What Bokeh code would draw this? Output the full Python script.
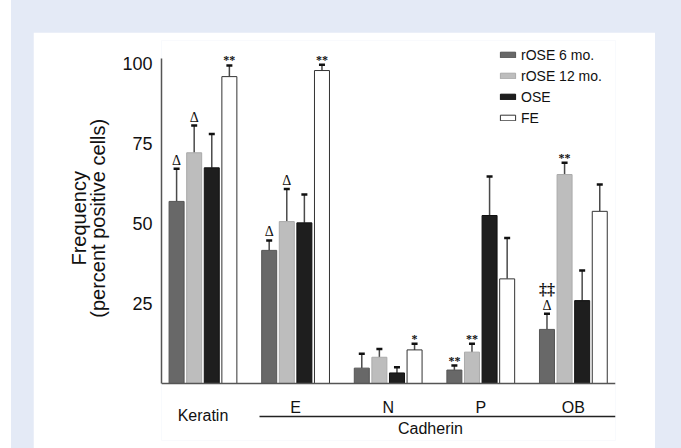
import numpy as np
from bokeh.plotting import figure
from bokeh.models import (Range1d, FixedTicker, ColumnDataSource, Whisker, TeeHead,
                          Legend, LegendItem, LabelSet, LinearAxis)
from bokeh.layouts import column
from bokeh.embed import file_html
from bokeh.resources import INLINE

# ---------------- data ----------------
groups = ["Keratin", "E", "N", "P", "OB"]
family_label = "Cadherin"
series = ["rOSE 6 mo.", "rOSE 12 mo.", "OSE", "FE"]
y_title = ["Frequency", "(percent positive cells)"]

rose6 = [56.9, 41.6, 4.8, 4.2, 16.9]
rose6_err = [10.2, 3.1, 4.5, 1.4, 4.9]
rose12 = [72.1, 50.6, 8.2, 9.8, 65.3]
rose12_err = [8.5, 10.2, 2.6, 2.6, 3.7]
ose = [67.4, 50.2, 3.3, 52.5, 25.9]
ose_err = [10.6, 8.9, 1.8, 12.2, 9.4]
fe = [95.9, 97.8, 10.5, 32.7, 53.8]
fe_err = [3.5, 1.8, 1.9, 12.8, 8.4]

y_ticks = [25, 50, 75, 100]

# significance marks: (group index, series index, symbol)
sig_group = [0, 0, 0, 1, 1, 1, 2, 3, 3, 4, 4, 4]
sig_series = [0, 1, 3, 0, 1, 3, 3, 0, 1, 0, 0, 1]
sig_text = ["Δ", "Δ", "**", "Δ", "Δ", "**", "*", "**", "**", "Δ", "‡‡", "**"]

# ---------------- style ----------------
FONT = "Liberation Sans"
TXT = "#111111"
colors = ["#686868", "#bdbdbd", "#1e1e1e", "#ffffff"]
edges = ["#555555", "#aaaaaa", "#111111", "#333333"]
offsets = [-0.285, -0.095, 0.095, 0.285]
bar_w = 0.162

p = figure(width=622, height=416,
           x_range=Range1d(-0.448, 4.455), y_range=Range1d(-17.8125, 107.1875),
           output_backend="svg", toolbar_location=None,
           min_border_left=128, min_border_right=40,
           min_border_top=8, min_border_bottom=8)
p.margin = (32, 0, 0, 22)
p.background_fill_color = "white"
p.border_fill_color = "white"
p.outline_line_color = None
p.xgrid.visible = False
p.ygrid.visible = False

gx = np.arange(len(groups), dtype=float)
vals = [rose6, rose12, ose, fe]
errs = [rose6_err, rose12_err, ose_err, fe_err]

renderers = []
tops = []
for i in range(4):
    v = np.array(vals[i], dtype=float)
    e = np.array(errs[i], dtype=float)
    xs = gx + offsets[i]
    src = ColumnDataSource(dict(x=xs, top=v, upper=v + e))
    r = p.vbar(x="x", top="top", bottom=0, width=bar_w, source=src,
               fill_color=colors[i], line_color=edges[i], line_width=1)
    renderers.append(r)
    tops.append(v + e)
    wk = Whisker(base="x", lower="top", upper="upper", source=src,
                 dimension="height", line_color="#4a4a4a", line_width=1.5,
                 lower_head=None,
                 upper_head=TeeHead(size=6, line_color="#111111", line_width=2.5))
    p.add_layout(wk)

# significance markers
offmap = {"Δ": 4, "**": 1, "*": 1, "‡‡": 19}
sizemap = {"Δ": "14px", "**": "12px", "*": "12px", "‡‡": "16px"}
for t in ["Δ", "**", "*", "‡‡"]:
    idx = [k for k in range(len(sig_text)) if sig_text[k] == t]
    src = ColumnDataSource(dict(
        x=[gx[sig_group[k]] + offsets[sig_series[k]] for k in idx],
        y=[float(tops[sig_series[k]][sig_group[k]]) for k in idx],
        text=[t for k in idx]))
    ls = LabelSet(x="x", y="y", text="text", source=src, y_offset=offmap[t],
                  text_align="center", text_baseline="alphabetic",
                  text_font=FONT, text_font_size=sizemap[t],
                  text_font_style="bold" if t != "Δ" else "normal",
                  text_color=TXT)
    p.add_layout(ls)

# y axis
pad = "\u00a0" * 8   # shifts the rotated title up to centre it on the 0-100 axis
p.yaxis.ticker = FixedTicker(ticks=y_ticks)
p.yaxis.bounds = (0, 101.5)
p.yaxis.major_tick_line_color = None
p.yaxis.major_tick_out = 0
p.yaxis.major_tick_in = 0
p.yaxis.minor_tick_line_color = None
p.yaxis.axis_line_color = "#555555"
p.yaxis.axis_line_width = 1.5
p.yaxis.major_label_text_font = FONT
p.yaxis.major_label_text_font_size = "18px"
p.yaxis.major_label_text_color = TXT
p.yaxis.major_label_standoff = 9
p.yaxis.axis_label = "\n".join(pad + s for s in y_title)
p.yaxis.axis_label_text_font = FONT
p.yaxis.axis_label_text_font_size = "20px"
p.yaxis.axis_label_text_font_style = "normal"
p.yaxis.axis_label_text_line_height = 0.9
p.yaxis.axis_label_text_color = TXT
p.yaxis.axis_label_standoff = 10

# x axis (cadherin subtypes) at y = 0
xa = p.xaxis[0]
xa.fixed_location = 0
xa.ticker = FixedTicker(ticks=[1, 2, 3, 4])
xa.major_label_overrides = {1: groups[1], 2: groups[2], 3: groups[3], 4: groups[4]}
xa.major_tick_line_color = None
xa.major_tick_out = 0
xa.major_tick_in = 0
xa.minor_tick_line_color = None
xa.axis_line_color = "#555555"
xa.axis_line_width = 1.5
xa.major_label_text_font = FONT
xa.major_label_text_font_size = "16px"
xa.major_label_text_color = TXT
xa.major_label_standoff = 15

# keratin label axis
ka = LinearAxis(fixed_location=0, ticker=FixedTicker(ticks=[0]),
                major_label_overrides={0: groups[0]},
                axis_line_color=None, major_tick_line_color=None,
                minor_tick_line_color=None, major_tick_out=0, major_tick_in=0,
                major_label_text_font=FONT, major_label_text_font_size="16px",
                major_label_text_color=TXT, major_label_standoff=23)
p.add_layout(ka, "below")

# cadherin bracket axis
ca = LinearAxis(fixed_location=-10.3, bounds=(0.613, 4.465),
                ticker=FixedTicker(ticks=[2.457]),
                major_label_overrides={2.457: family_label},
                axis_line_color="#222222", axis_line_width=1.5,
                major_tick_line_color=None, minor_tick_line_color=None,
                major_tick_out=0, major_tick_in=0,
                major_label_text_font=FONT, major_label_text_font_size="16px",
                major_label_text_color=TXT, major_label_standoff=4)
p.add_layout(ca, "below")

legend = Legend(items=[LegendItem(label=series[i], renderers=[renderers[i]]) for i in range(4)],
                location=(337, 312), orientation="vertical",
                glyph_width=19, glyph_height=7, label_standoff=4,
                label_text_font=FONT, label_text_font_size="14px",
                label_text_color=TXT, label_height=21, spacing=0,
                padding=0, margin=0, border_line_color=None,
                background_fill_alpha=0)
p.add_layout(legend)

layout = column(p, width=670, height=448, margin=(0, 0, 0, 11),
                styles={"background-color": "#e4eaf6"})

open("out.html", "w").write(file_html(layout, INLINE))
